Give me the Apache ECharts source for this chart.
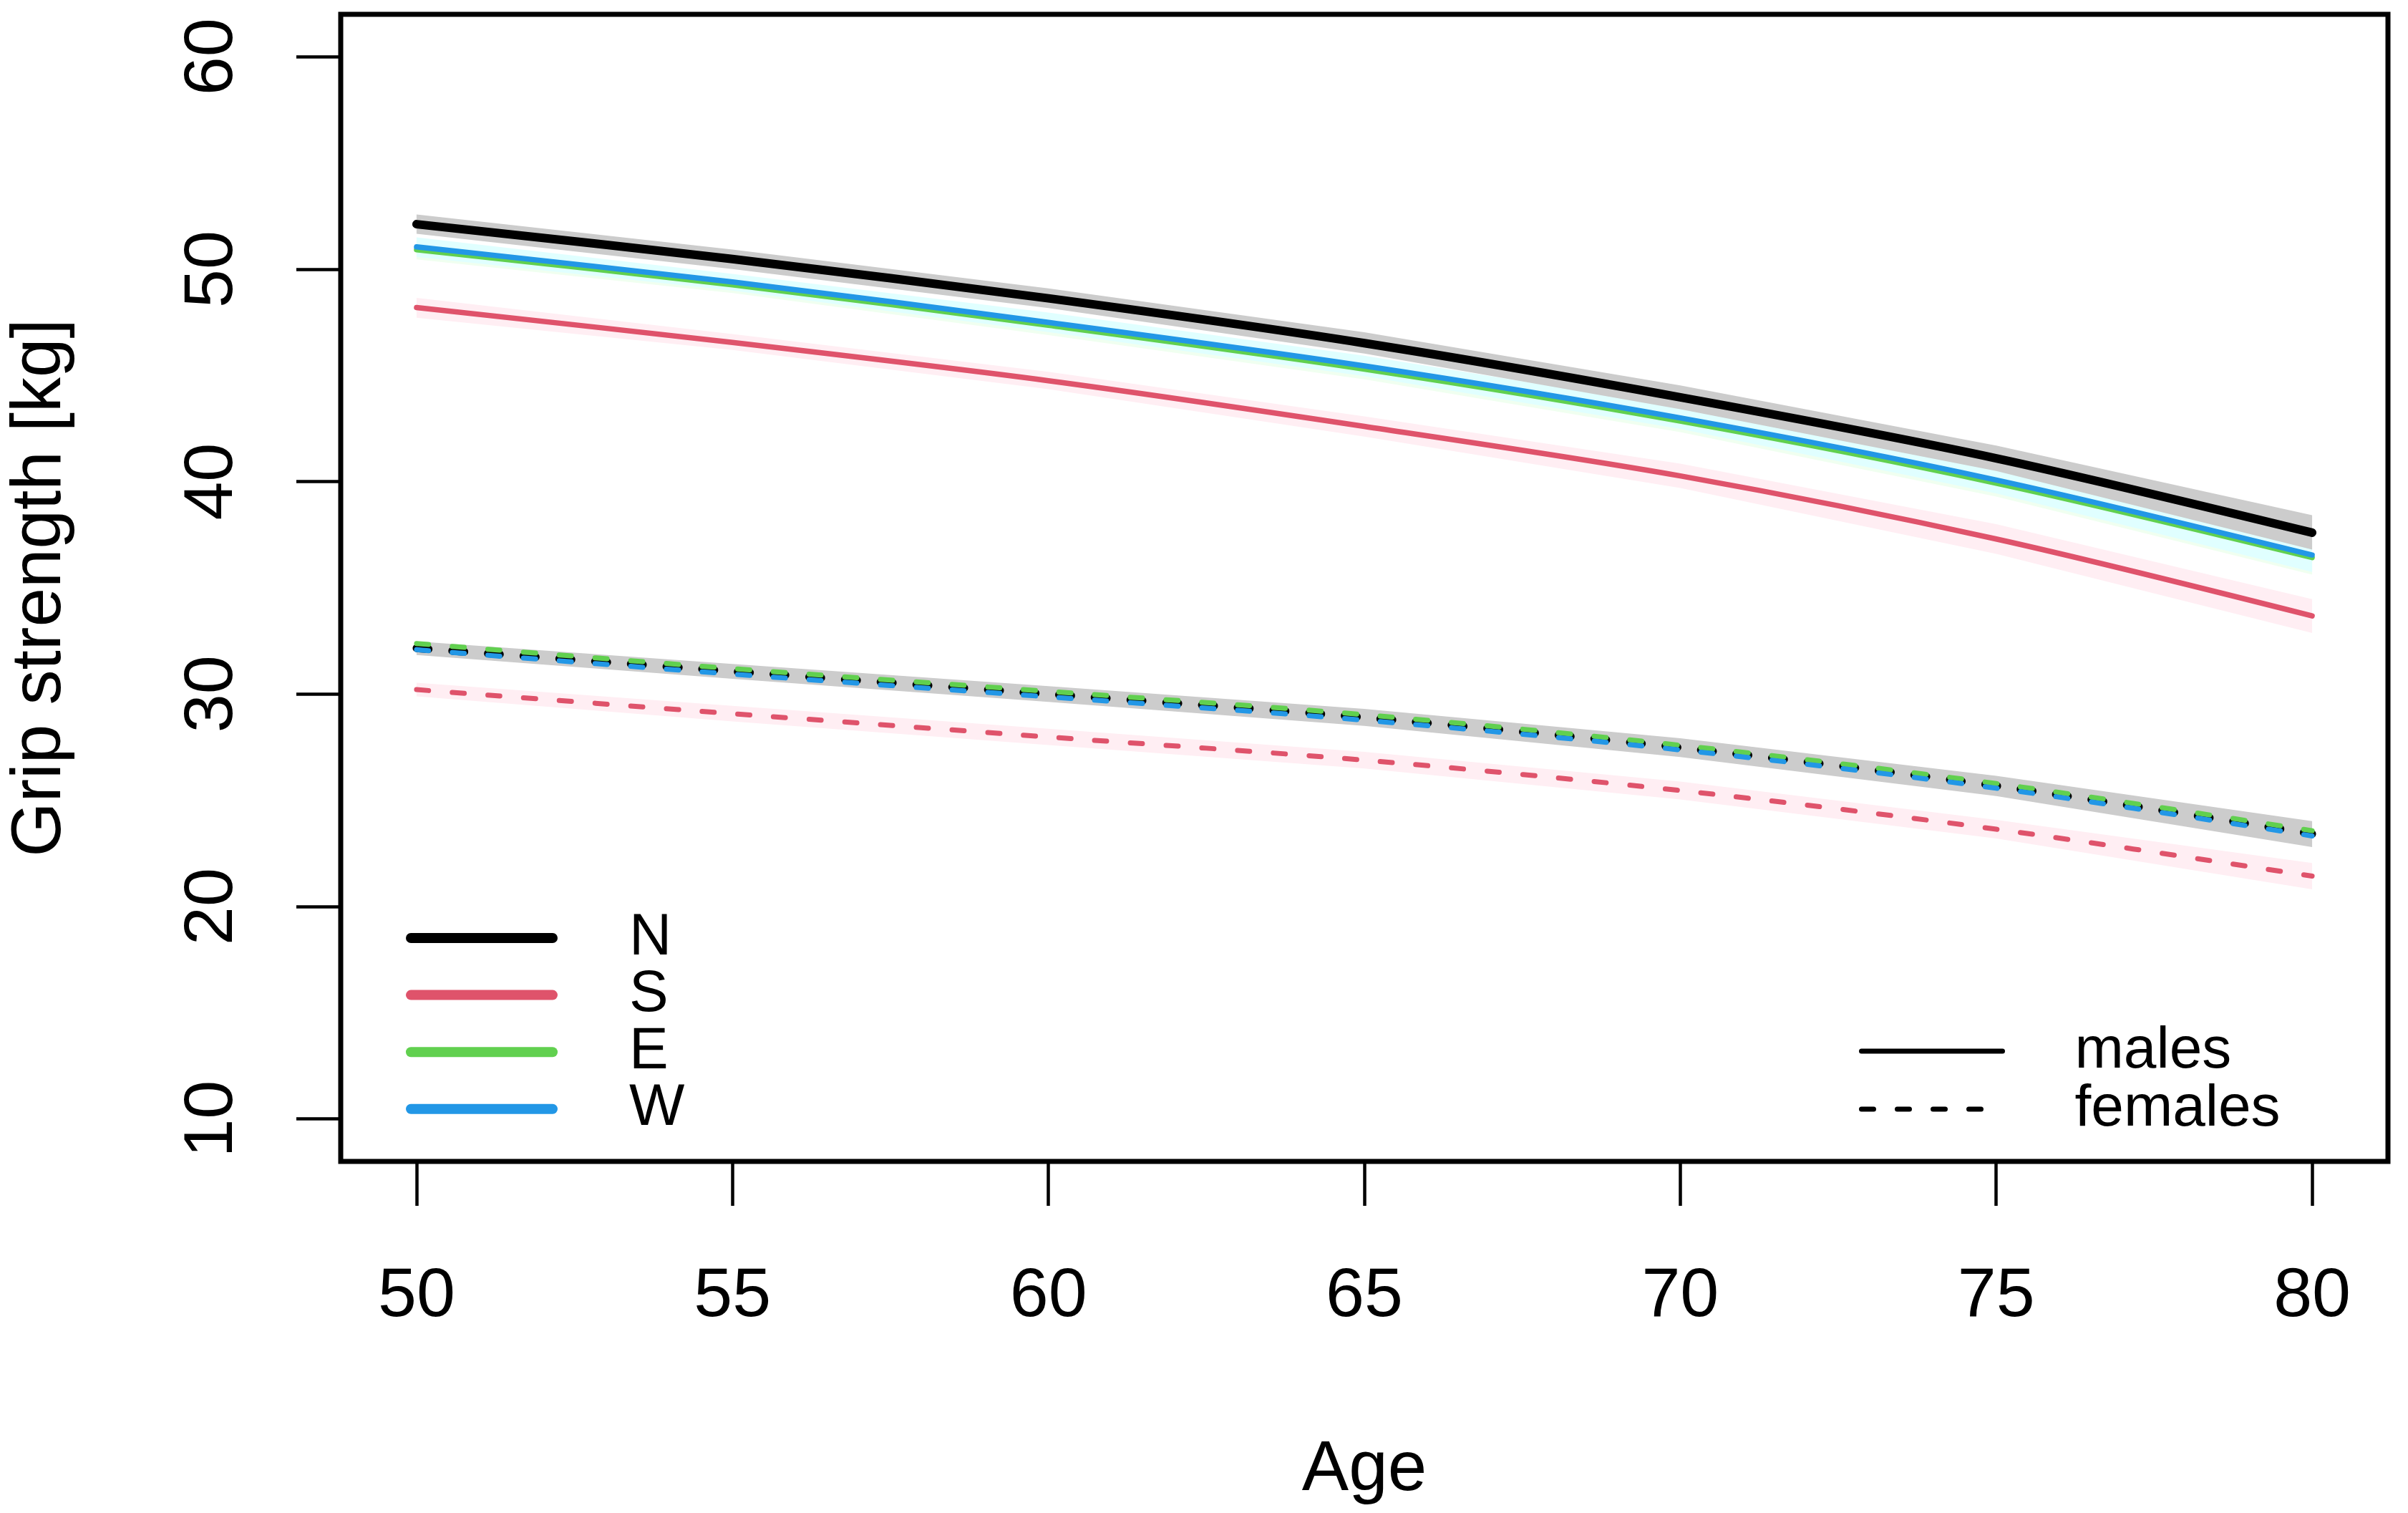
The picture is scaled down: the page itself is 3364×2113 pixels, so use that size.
<!DOCTYPE html>
<html><head><meta charset="utf-8">
<script src="https://cdn.jsdelivr.net/npm/echarts@6/dist/echarts.min.js"></script>
<style>html,body{margin:0;padding:0;background:#fff;} #c{width:3364px;height:2113px;}</style>
</head><body><div id="c"></div>
<script>
const ages = [50, 55, 60, 65, 70, 75, 80];
const xTicks = [50, 55, 60, 65, 70, 75, 80];
const yTicks = [10, 20, 30, 40, 50, 60];
const regions = ['N', 'S', 'E', 'W'];
const sexes = ['males', 'females'];

const maleN = [52.12, 50.48, 48.63, 46.52, 43.97, 41.10, 37.60];
const maleS = [48.20, 46.55, 44.75, 42.60, 40.27, 37.30, 33.68];
const maleE = [50.92, 49.27, 47.36, 45.30, 42.85, 39.93, 36.43];
const maleW = [51.05, 49.40, 47.50, 45.45, 43.00, 40.08, 36.55];
const femaleN = [32.16, 31.07, 30.00, 28.90, 27.48, 25.68, 23.42];
const femaleS = [30.21, 29.08, 27.98, 26.89, 25.46, 23.64, 21.43];
const femaleE = [32.38, 31.20, 30.13, 29.03, 27.59, 25.79, 23.57];
const femaleW = [32.09, 30.94, 29.87, 28.77, 27.37, 25.57, 23.32];

const maleNUpper = [52.58, 50.93, 49.10, 47.03, 44.53, 41.70, 38.42];
const maleNLower = [51.67, 50.01, 48.17, 46.03, 43.41, 40.50, 36.80];
const maleSUpper = [48.65, 46.95, 45.17, 43.07, 40.85, 38.00, 34.47];
const maleSLower = [47.72, 46.20, 44.35, 42.12, 39.70, 36.60, 32.88];
const maleEUpper = [51.38, 49.66, 47.82, 45.78, 43.37, 40.56, 37.25];
const maleELower = [50.46, 48.88, 46.90, 44.82, 42.33, 39.30, 35.62];
const maleWUpper = [51.50, 49.78, 47.96, 45.93, 43.52, 40.70, 37.35];
const maleWLower = [50.58, 49.00, 47.04, 44.97, 42.48, 39.45, 35.75];
const femaleNUpper = [32.48, 31.42, 30.37, 29.30, 27.92, 26.15, 24.02];
const femaleNLower = [31.84, 30.72, 29.63, 28.50, 27.04, 25.20, 22.80];
const femaleSUpper = [30.53, 29.45, 28.37, 27.28, 25.88, 24.08, 22.05];
const femaleSLower = [29.89, 28.71, 27.60, 26.50, 25.04, 23.20, 20.81];

const FONT = '"Liberation Sans", Arial, Helvetica, sans-serif';
const COL = { N: '#000000', S: '#DF536B', E: '#61D04F', W: '#2297E6' };
const DASH = [17, 33];

function bandSeries(name, lower, upper, color) {
  return {
    type: 'custom', name: name, silent: true, z: 1,
    data: ages.map((a, i) => [a, lower[i], upper[i]]),
    encode: { x: 0, y: [1, 2] },
    renderItem: function (params, api) {
      if (params.dataIndex !== 0) return null;
      const pts = [];
      for (let i = 0; i < ages.length; i++) pts.push(api.coord([ages[i], upper[i]]));
      for (let i = ages.length - 1; i >= 0; i--) pts.push(api.coord([ages[i], lower[i]]));
      return { type: 'polygon', shape: { points: pts }, style: { fill: color } };
    }
  };
}
function lineSeries(name, values, color, width, dashed) {
  return {
    type: 'line', name: name, silent: true, z: 3, smooth: 0.3,
    data: ages.map((a, i) => [a, values[i]]),
    symbol: 'none', showSymbol: false,
    itemStyle: { color: color },
    lineStyle: { color: color, width: width, type: dashed ? DASH : 'solid', cap: 'round', join: 'round' }
  };
}

const series = [
  bandSeries('bandE', maleELower, maleEUpper, '#F0FFF0'),
  bandSeries('bandW', maleWLower, maleWUpper, '#E0FFFF'),
  bandSeries('bandS', maleSLower, maleSUpper, '#FFEEF3'),
  bandSeries('bandN', maleNLower, maleNUpper, '#CCCCCC'),
  bandSeries('bandFS', femaleSLower, femaleSUpper, '#FFEEF3'),
  bandSeries('bandFN', femaleNLower, femaleNUpper, '#CCCCCC'),
  lineSeries('N', maleN, COL.N, 12, false),
  lineSeries('S', maleS, COL.S, 7.5, false),
  lineSeries('E', maleE, COL.E, 7.5, false),
  lineSeries('W', maleW, COL.W, 7.5, false),
  lineSeries('N', femaleN, COL.N, 11, true),
  lineSeries('S', femaleS, COL.S, 7, true),
  lineSeries('E', femaleE, COL.E, 7, true),
  lineSeries('W', femaleW, COL.W, 7, true),
  lineSeries('males', [], '#000000', 7, false),
  lineSeries('females', [], '#000000', 7, true)
];
series[14].data = [];
series[15].data = [];

const chart = echarts.init(document.getElementById('c'), null, { renderer: 'canvas' });
chart.setOption({
  animation: false,
  backgroundColor: '#ffffff',
  grid: { left: 474, top: 20, width: 2862, height: 1602, show: true, borderColor: '#000', borderWidth: 7, backgroundColor: 'rgba(0,0,0,0)' },
  xAxis: {
    type: 'value', min: 48.8, max: 81.2,
    axisLine: { show: false }, splitLine: { show: false },
    axisTick: { show: true, inside: false, length: 62, lineStyle: { color: '#000', width: 4.5 }, customValues: xTicks },
    axisLabel: { customValues: xTicks, fontSize: 97, color: '#000', fontFamily: FONT, margin: 141 },
    name: 'Age', nameLocation: 'middle', nameGap: 383,
    nameTextStyle: { fontSize: 98, color: '#000', fontFamily: FONT }
  },
  yAxis: {
    type: 'value', min: 8, max: 62,
    axisLine: { show: false }, splitLine: { show: false },
    axisTick: { show: true, inside: false, length: 62, lineStyle: { color: '#000', width: 4.5 }, customValues: yTicks },
    axisLabel: { customValues: yTicks, fontSize: 97, color: '#000', fontFamily: FONT, margin: 130, rotate: 90 },
    name: 'Grip strength [kg]', nameLocation: 'middle', nameGap: 370, nameRotate: 90,
    nameTextStyle: { fontSize: 98, color: '#000', fontFamily: FONT }
  },
  legend: [
    {
      data: regions, orient: 'vertical', left: 567, top: 1269, padding: 0,
      itemWidth: 198, itemHeight: 40, itemGap: -2.4, selectedMode: false,
      lineStyle: { width: 14, cap: 'round' },
      itemStyle: { color: 'rgba(0,0,0,0)', borderColor: 'rgba(0,0,0,0)', borderWidth: 0 },
      textStyle: { fontSize: 82, color: '#000', fontFamily: FONT, lineHeight: 82, padding: [0, 0, 0, 102] }
    },
    {
      data: sexes, orient: 'vertical', left: 2597, top: 1427, padding: 0,
      itemWidth: 197, itemHeight: 40, itemGap: -1, selectedMode: false,
      lineStyle: { width: 7, cap: 'round' },
      itemStyle: { color: 'rgba(0,0,0,0)', borderColor: 'rgba(0,0,0,0)', borderWidth: 0 },
      textStyle: { fontSize: 82, color: '#000', fontFamily: FONT, lineHeight: 82, padding: [0, 0, 0, 96] }
    }
  ],
  series: series
});
</script></body></html>
